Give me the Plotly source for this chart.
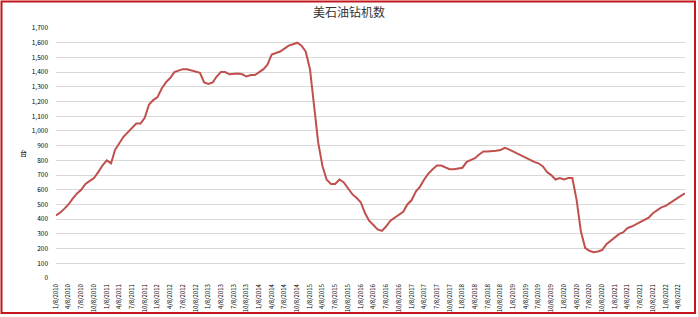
import pandas as pd
import plotly.graph_objects as go

# Monthly readings (on the 8th of each month) of the US oil rig count, 2010-01 .. 2022-05
rig_values = [
    # 2010
    425, 445, 470, 500, 540, 575, 600, 640, 660, 680, 720, 765,
    # 2011
    800, 780, 870, 920, 960, 990, 1020, 1050, 1050, 1090, 1180, 1210,
    # 2012
    1230, 1290, 1330, 1360, 1400, 1410, 1420, 1420, 1410, 1400, 1395, 1330,
    # 2013
    1320, 1330, 1370, 1400, 1400, 1385, 1390, 1390, 1385, 1370, 1380, 1380,
    # 2014
    1400, 1420, 1450, 1520, 1530, 1540, 1560, 1580, 1590, 1600, 1580, 1540,
    # 2015
    1420, 1140, 920, 760, 668, 640, 640, 670, 650, 610, 570, 545,
    # 2016
    515, 440, 390, 360, 330, 320, 350, 390, 410, 430, 450, 500,
    # 2017
    530, 590, 620, 670, 710, 740, 765, 765, 755, 740, 740, 745,
    # 2018
    750, 790, 800, 815, 840, 860, 860, 860, 865, 870, 885, 875,
    # 2019
    860, 845, 830, 820, 800, 790, 780, 760, 720, 700, 670, 680,
    # 2020
    670, 680, 680, 530, 320, 205, 185, 176, 180, 190, 230, 255,
    # 2021
    280, 300, 310, 340, 350, 365, 380, 400, 410, 440, 460, 480,
    # 2022
    490, 510, 530, 545, 565,
]
last_date = "2022-05-27"
last_value = 575

rig_dates = list((pd.date_range("2010-01-01", periods=len(rig_values), freq="MS")
                  + pd.Timedelta(days=7)).strftime("%Y-%m-%d")) + [last_date]
rig_values = rig_values + [last_value]

tick_dates = pd.date_range("2010-01-01", "2022-04-01", freq="QS") + pd.Timedelta(days=7)
tick_vals = list(tick_dates.strftime("%Y-%m-%d"))
tick_text = [f"{d.month}/{d.day}/{d.year}" for d in tick_dates]
y_ticks = list(range(0, 1800, 100))

title_text = "美石油钻机数"
y_title = "台"

fig = go.Figure()
fig.add_trace(go.Scatter(
    x=rig_dates, y=rig_values, mode="lines",
    line=dict(color="#C0504D", width=2),
    showlegend=False,
))

W, H = 698, 317
ml, mr, mt, mb = 56, 13, 28, 39
pw, ph = W - ml - mr, H - mt - mb

def px_x(px):
    return (px - ml) / pw

def px_y(py):
    return (H - mb - py) / ph

fig.update_layout(
    width=W, height=H,
    margin=dict(l=ml, r=mr, t=mt, b=mb, autoexpand=False),
    paper_bgcolor="white", plot_bgcolor="white",
    font=dict(family="Noto Sans CJK SC, DejaVu Sans", color="#000000"),
    title=dict(text=title_text, x=0.5, xref="container", xanchor="center",
               y=1 - 13 / H, yref="container", yanchor="middle",
               font=dict(size=12, color="#333333")),
    xaxis=dict(
        type="date", automargin=False,
        range=["2010-01-08", last_date],
        tickmode="array", tickvals=tick_vals, ticktext=tick_text,
        tickangle=-90, tickfont=dict(size=6, color="#000000"),
        showgrid=False, zeroline=False, showline=False, ticks="",
        ticklabelstandoff=4,
    ),
    yaxis=dict(
        range=[0, 1700], automargin=False,
        tickmode="array", tickvals=y_ticks, tickformat=",",
        tickfont=dict(size=6.5, color="#000000"),
        showgrid=True, gridcolor="#D9D9D9", gridwidth=1,
        zeroline=False, showline=False, ticks="",
        ticklabelstandoff=7,
    ),
    annotations=[dict(
        text=y_title, x=px_x(18), y=px_y(153), xref="paper", yref="paper",
        showarrow=False, font=dict(size=7, color="#000000"),
    )],
    shapes=[dict(
        type="rect", xref="paper", yref="paper",
        x0=px_x(1.5), x1=px_x(695), y0=px_y(313), y1=px_y(1.5),
        line=dict(color="#C4161C", width=2), fillcolor="rgba(0,0,0,0)",
        layer="above",
    )],
)

fig.write_html("out.html")
